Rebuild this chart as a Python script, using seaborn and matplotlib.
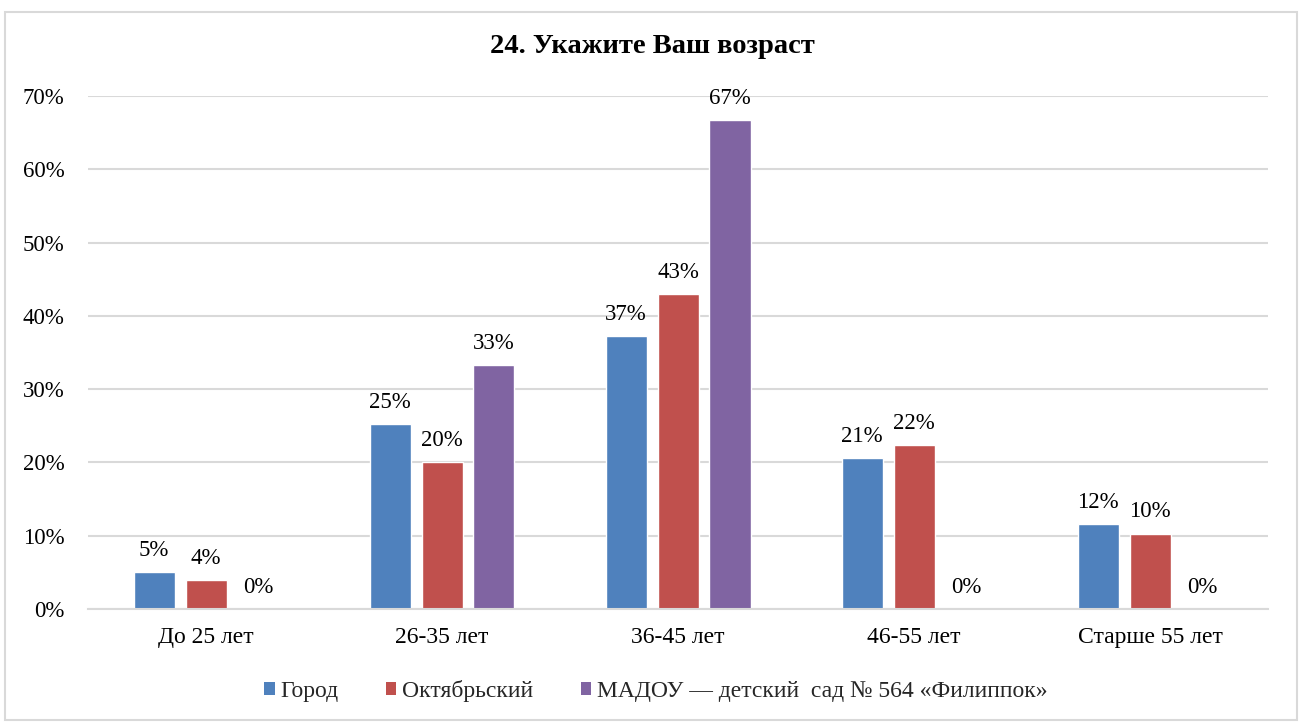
import matplotlib
matplotlib.use("Agg")

import numpy as np
import pandas as pd
import matplotlib.pyplot as plt
import seaborn as sns
from matplotlib.patches import Patch, Rectangle
from matplotlib.ticker import FuncFormatter

# data (percent)
categories = ["До 25 лет", "26-35 лет", "36-45 лет", "46-55 лет", "Старше 55 лет"]
series = ["Город", "Октябрьский", "МАДОУ — детский  сад № 564 «Филиппок»"]
gorod = [5.0, 25.2, 37.2, 20.6, 11.6]
oktyabrsky = [4.0, 20.1, 43.0, 22.4, 10.3]
madou = [0.0, 33.3, 66.7, 0.0, 0.0]
colors = ["#4F81BD", "#C0504D", "#8064A2"]

df = pd.DataFrame({
    "age": categories * 3,
    "group": [series[0]] * 5 + [series[1]] * 5 + [series[2]] * 5,
    "value": gorod + oktyabrsky + madou,
})

sns.set_style("white")
plt.rcParams["font.family"] = ["Liberation Serif", "DejaVu Serif"]

fig = plt.figure(figsize=(13.04, 7.22), dpi=100)
ax = fig.add_axes([0.0675, 0.1565, 0.905, 0.7105])

sns.barplot(data=df, x="age", y="value", hue="group", palette=colors,
            width=0.66, gap=0.21, ax=ax, legend=False, saturation=1)

for cont in ax.containers:
    ax.bar_label(cont, labels=[f"{b.get_height():.0f}%" for b in cont],
                 padding=8, fontsize=16.5, color="#000000")

ax.set_ylim(0, 70)
ax.set_yticks(np.arange(0, 71, 10))
ax.yaxis.set_major_formatter(FuncFormatter(lambda v, p: f"{v:.0f}%"))
ax.set_xlim(-0.5, 4.5)
ax.grid(axis="y", color="#D9D9D9", linewidth=1.5)
ax.set_axisbelow(True)
for s in ["top", "right", "left"]:
    ax.spines[s].set_visible(False)
ax.spines["bottom"].set_color("#D9D9D9")
ax.spines["bottom"].set_linewidth(1.5)
ax.tick_params(axis="y", length=0, pad=17, labelsize=16.5, labelcolor="#000000")
ax.tick_params(axis="x", length=0, pad=13, labelsize=17, labelcolor="#000000")
ax.set_xlabel("")
ax.set_ylabel("")

fig.text(0.5, 0.935, "24. Укажите Ваш возраст", ha="center", va="center",
         fontsize=20.5, fontweight="bold", color="#000000")

handles = [Patch(facecolor=c, edgecolor="none") for c in colors]
fig.legend(handles, series, loc="center", bbox_to_anchor=(0.503, 0.043),
           ncol=3, frameon=False, fontsize=17, handlelength=0.45,
           handleheight=0.5, handletextpad=0.25, columnspacing=2.0)

fig.patches.append(Rectangle((5 / 1304, 2 / 722), 1292 / 1304, 708 / 722,
                             transform=fig.transFigure, fill=False,
                             edgecolor="#D9D9D9", linewidth=1.5))

fig.savefig("out.png", dpi=100)
plt.close(fig)
